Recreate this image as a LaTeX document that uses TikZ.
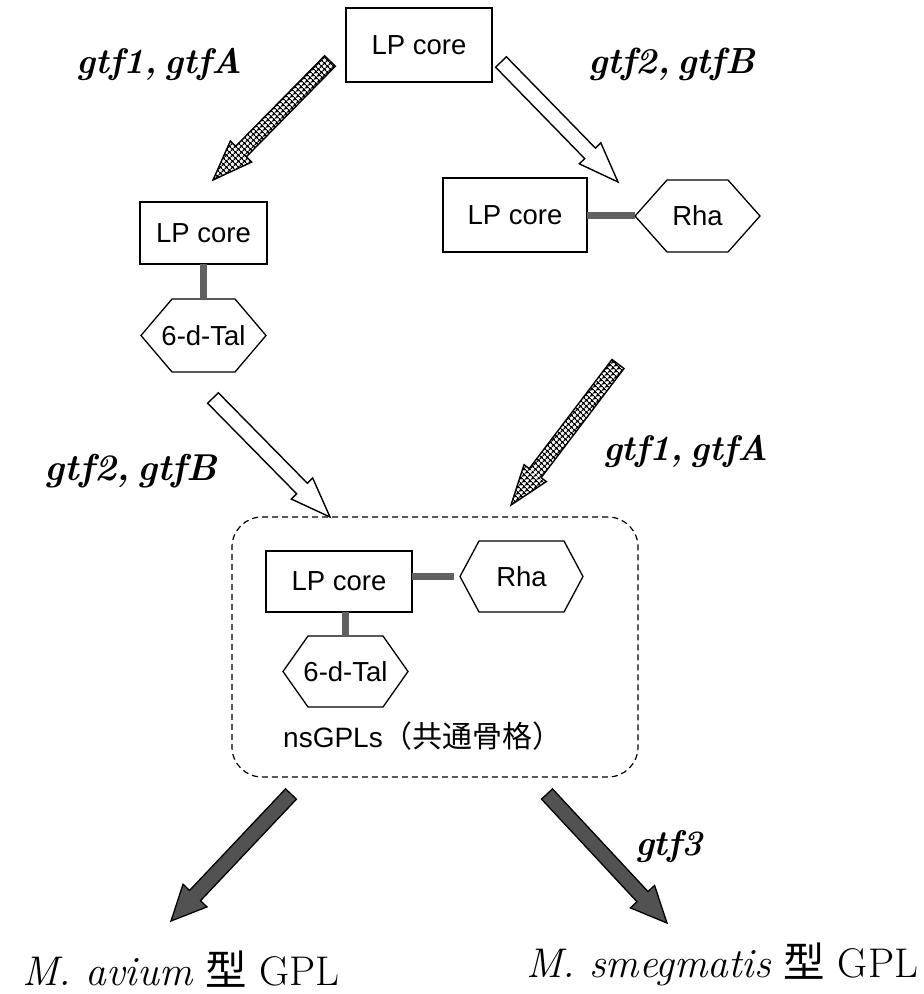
\documentclass[tikz,border=0pt]{standalone}
\usepackage{fontspec}
\usepackage{graphicx}
\setsansfont{Liberation Sans}
\newfontfamily\cjk{Noto Sans CJK JP}
\usetikzlibrary{calc,patterns.meta}
\tikzset{
  box/.style={draw, line width=1.3pt, font=\sffamily\fontsize{27.5}{30}\selectfont, inner sep=0pt, outer sep=0pt},
  hexlabel/.style={inner sep=0pt, outer sep=0pt, font=\sffamily\fontsize{27.5}{30}\selectfont},
  hexline/.style={draw, line width=1.3pt, line join=miter},
  bond/.style={line width=7pt, draw=black!62},
  hatcharrow/.style={draw, line width=1.4pt, line join=miter, pattern={Hatch[angle=45,distance=4pt,line width=1.3pt]}},
  hollowarrow/.style={draw, line width=1.4pt, line join=miter, fill=white},
  darkarrow/.style={draw, line width=1.3pt, line join=miter, fill=black!68},
  gene/.style={inner sep=0pt, outer sep=0pt, anchor=base west},
  result/.style={inner sep=0pt, outer sep=0pt, anchor=base west, font=\fontsize{41.5}{44}\selectfont},
  grouping/.style={draw, dashed, dash pattern=on 6pt off 4pt, line width=1.2pt, rounded corners=30pt, inner sep=0pt, outer sep=0pt},
}
% #1 style, #2 tail, #3 tip, #4 half shaft width, #5 half head width, #6 head length
\newcommand\fatarrow[6]{%
  \path[#1] ($(#2)!#4!90:(#3)$) -- ($(#3)!#6!(#2)!#4!90:(#3)$) -- ($(#3)!#6!(#2)!#5!90:(#3)$)
    -- (#3) -- ($(#3)!#6!(#2)!#5!-90:(#3)$) -- ($(#3)!#6!(#2)!#4!-90:(#3)$)
    -- ($(#2)!#4!-90:(#3)$) -- cycle;}
% #1 name, #2 centre, #3 width, #4 height, #5 slant, #6 text
\newcommand\hexa[6]{%
  \node[hexlabel, minimum width=#3, minimum height=#4] (#1) at (#2) {#6};
  \path[hexline] (#1.west) -- ([xshift=#5]#1.north west) -- ([xshift=-#5]#1.north east)
    -- (#1.east) -- ([xshift=-#5]#1.south east) -- ([xshift=#5]#1.south west) -- cycle;}
\newcommand\genetext[2]{\resizebox{#1}{!}{\bfseries\itshape #2}}
\begin{document}
\begin{tikzpicture}[x=1pt,y=-1pt]
\useasboundingbox (0,0) rectangle (924,994);
\fill[white] (0,0) rectangle (924,994);

% boxes
\node[box, minimum width=146pt, minimum height=74pt] (lp1) at (419,45) {LP core};
\node[box, minimum width=144pt, minimum height=74pt] (lp2) at (515,215) {LP core};
\node[box, minimum width=127pt, minimum height=62pt] (lp3) at (203.5,233) {LP core};
\node[box, minimum width=146pt, minimum height=61pt] (lp4) at (339,581.5) {LP core};

% sugars
\hexa{rha1}{697.5,216}{125pt}{72pt}{32pt}{Rha}
\hexa{tal1}{203.5,335.5}{125pt}{73pt}{31pt}{6-d-Tal}
\hexa{rha2}{521.5,576.5}{123pt}{71pt}{19pt}{Rha}
\hexa{tal2}{345.5,671.5}{125pt}{71pt}{25pt}{6-d-Tal}

% bonds
\draw[bond] (lp2.east) -- (lp2.east -| rha1.west);
\draw[bond] (lp3.south) -- (lp3.south |- tal1.north);
\draw[bond] (lp4.east |- rha2.west) -- ([xshift=-6pt]rha2.west);
\draw[bond] (tal2.north |- lp4.south) -- (tal2.north);

% grouping box
\node[grouping, minimum width=406pt, minimum height=260pt] (ns) at (435,647) {};
\node[inner sep=0pt, anchor=base west] (nslabel) at (283,747)
  {\sffamily\fontsize{28}{30}\selectfont nsGPLs{\cjk\fontsize{30}{32}\selectfont （共通骨格）}};

% arrow end points
\coordinate (a1t) at (330,61);  \coordinate (a1h) at (213,180);
\coordinate (a2t) at (501,62);  \coordinate (a2h) at (618,182);
\coordinate (a3t) at (213,398); \coordinate (a3h) at (330,517);
\coordinate (a4t) at (618,364); \coordinate (a4h) at (511,505);
\coordinate (a5t) at (291,794); \coordinate (a5h) at (171,921);
\coordinate (a6t) at (547,794); \coordinate (a6h) at (667,923);

\fatarrow{hatcharrow}{a1t}{a1h}{7.5pt}{15pt}{40pt}
\fatarrow{hollowarrow}{a2t}{a2h}{7.5pt}{15pt}{40pt}
\fatarrow{hollowarrow}{a3t}{a3h}{7.5pt}{15pt}{40pt}
\fatarrow{hatcharrow}{a4t}{a4h}{7.5pt}{14pt}{40pt}
\fatarrow{darkarrow}{a5t}{a5h}{7.5pt}{16.5pt}{35pt}
\fatarrow{darkarrow}{a6t}{a6h}{7.5pt}{16.5pt}{36pt}

% gene labels
\node[gene] (g1) at (77,73)  {\genetext{165pt}{gtf1,\hspace{0.2em}gtfA}};
\node[gene] (g2) at (588,73) {\genetext{167pt}{gtf2,\hspace{0.2em}gtfB}};
\node[gene] (g3) at (45,480) {\genetext{172pt}{gtf2,\hspace{0.2em}gtfB}};
\node[gene] (g4) at (603,460) {\genetext{165pt}{gtf1,\hspace{0.2em}gtfA}};
\node[gene] (g5) at (635,855) {\genetext{68pt}{gtf3}};

% results
\node[result] (avium) at (22,985) {\textit{M. avium} {\cjk 型} GPL};
\node[result] (smeg) at (526,977) {\textit{M. smegmatis} {\cjk 型} GPL};
\end{tikzpicture}
\end{document}
